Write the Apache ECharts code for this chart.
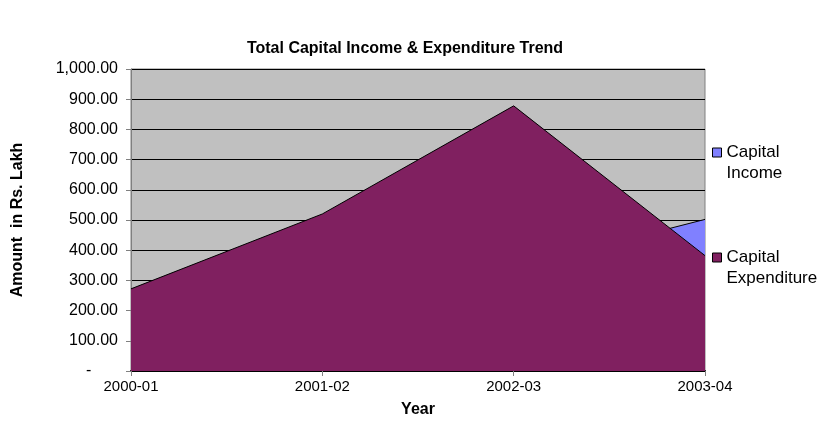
<!DOCTYPE html>
<html>
<head>
<meta charset="utf-8">
<script src="https://cdn.jsdelivr.net/npm/echarts@6/dist/echarts.min.js"></script>
<style>
  html, body { margin: 0; padding: 0; background: #ffffff; }
  #chart { width: 837px; height: 443px; }
</style>
</head>
<body>
<div id="chart"></div>
<script>
// Financial years on the category axis
const years = ['2000-01', '2001-02', '2002-03', '2003-04'];
// Amounts in Rs. Lakh
const capitalIncome = [180, 260, 340, 502];
const capitalExpenditure = [272, 520, 878, 382];
// Value axis range
const yMin = 0;
const yMax = 1000;
const yStep = 100;

const FONT = '"Liberation Sans", Arial, sans-serif';

function fmtAmount(v) {
  if (v === 0) return '-      ';
  const fixed = v.toFixed(2);
  const parts = fixed.split('.');
  const intPart = parts[0].replace(/\B(?=(\d{3})+(?!\d))/g, ',');
  return intPart + '.' + parts[1];
}

const chart = echarts.init(document.getElementById('chart'), null, { renderer: 'canvas' });

chart.setOption({
  animation: false,
  backgroundColor: '#ffffff',
  title: {
    text: 'Total Capital Income & Expenditure Trend',
    left: 405,
    top: 41,
    padding: 0,
    textAlign: 'center',
    textStyle: { fontFamily: FONT, fontSize: 16, fontWeight: 'bold', color: '#000000' }
  },
  legend: {
    orient: 'vertical',
    left: 712,
    top: 121,
    padding: 0,
    itemWidth: 9,
    itemHeight: 9,
    itemGap: 42,
    icon: 'rect',
    data: ['Capital Income', 'Capital Expenditure'],
    formatter: function (name) { return '\n' + name.replace(' ', '\n'); },
    textStyle: { fontFamily: FONT, fontSize: 17, color: '#000000', lineHeight: 21 },
    itemStyle: { borderColor: '#000000', borderWidth: 1 }
  },
  grid: {
    left: 131,
    right: 132,
    top: 69,
    bottom: 72,
    show: true,
    backgroundColor: '#C0C0C0',
    borderColor: '#808080',
    borderWidth: 1
  },
  xAxis: {
    type: 'category',
    data: years,
    boundaryGap: false,
    name: 'Year',
    nameLocation: 'middle',
    nameGap: 31,
    nameTextStyle: { fontFamily: FONT, fontSize: 16, fontWeight: 'bold', color: '#000000' },
    axisLine: { show: true, lineStyle: { color: '#000000', width: 2 } },
    axisTick: { show: true, length: 5, lineStyle: { color: '#808080' } },
    axisLabel: { fontFamily: FONT, fontSize: 15, color: '#000000', margin: 8 },
    splitLine: { show: false }
  },
  yAxis: {
    type: 'value',
    min: yMin,
    max: yMax,
    interval: yStep,
    name: 'Amount  in Rs. Lakh',
    nameLocation: 'middle',
    nameGap: 105,
    nameTextStyle: { fontFamily: FONT, fontSize: 16, fontWeight: 'bold', color: '#000000' },
    axisLine: { show: true, lineStyle: { color: '#808080', width: 1 } },
    axisTick: { show: true, length: 5, lineStyle: { color: '#808080' } },
    axisLabel: { fontFamily: FONT, fontSize: 16, color: '#000000', margin: 13, formatter: fmtAmount },
    splitLine: { show: true, lineStyle: { color: '#000000', width: 1 } }
  },
  series: [
    {
      name: 'Capital Income',
      type: 'line',
      data: capitalIncome,
      symbol: 'none',
      lineStyle: { color: '#000000', width: 1 },
      itemStyle: { color: '#8080FF', borderColor: '#000000' },
      areaStyle: { color: '#8080FF', opacity: 1 },
      z: 2
    },
    {
      name: 'Capital Expenditure',
      type: 'line',
      data: capitalExpenditure,
      symbol: 'none',
      lineStyle: { color: '#000000', width: 1 },
      itemStyle: { color: '#802060', borderColor: '#000000' },
      areaStyle: { color: '#802060', opacity: 1 },
      z: 3
    }
  ]
});
</script>
</body>
</html>
